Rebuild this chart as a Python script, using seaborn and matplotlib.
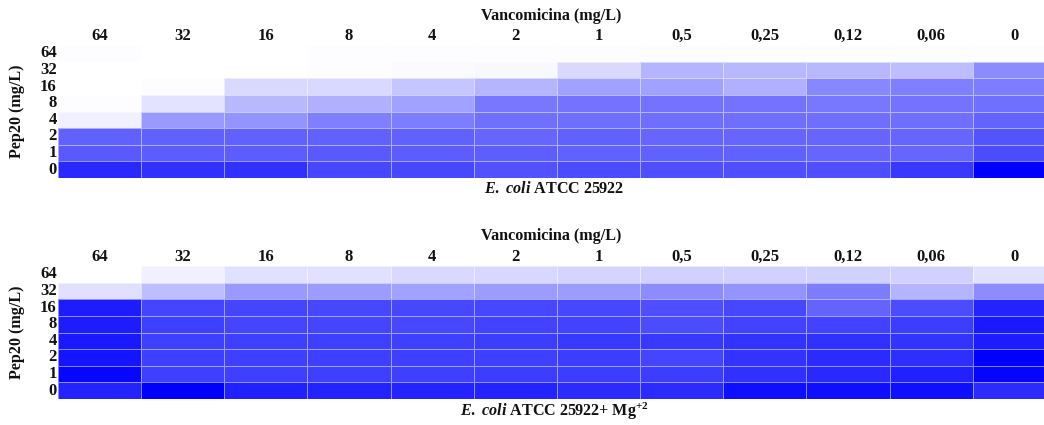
import numpy as np
import pandas as pd
import matplotlib
matplotlib.use("Agg")
import matplotlib.pyplot as plt
from matplotlib.colors import LinearSegmentedColormap
import seaborn as sns

vanco_labels = ["64", "32", "16", "8", "4", "2", "1", "0,5", "0,25", "0,12", "0,06", "0"]
pep_labels = ["64", "32", "16", "8", "4", "2", "1", "0"]

# Growth intensity (0 = white, 1 = full blue), rows = Pep20, cols = Vancomicina
ecoli = [
    [0.01, 0.00, 0.00, 0.01, 0.01, 0.01, 0.01, 0.01, 0.01, 0.01, 0.01, 0.01],
    [0.00, 0.00, 0.00, 0.01, 0.02, 0.03, 0.15, 0.29, 0.28, 0.28, 0.26, 0.45],
    [0.00, 0.01, 0.15, 0.15, 0.23, 0.29, 0.37, 0.37, 0.31, 0.47, 0.50, 0.51],
    [0.01, 0.11, 0.28, 0.31, 0.37, 0.53, 0.55, 0.55, 0.55, 0.53, 0.55, 0.56],
    [0.06, 0.40, 0.42, 0.50, 0.51, 0.56, 0.57, 0.57, 0.57, 0.57, 0.57, 0.61],
    [0.62, 0.62, 0.62, 0.62, 0.62, 0.60, 0.62, 0.60, 0.60, 0.60, 0.60, 0.67],
    [0.65, 0.64, 0.64, 0.65, 0.64, 0.63, 0.62, 0.62, 0.62, 0.60, 0.60, 0.70],
    [0.84, 0.81, 0.81, 0.72, 0.72, 0.68, 0.70, 0.69, 0.69, 0.69, 0.78, 1.00],
]

ecoli_mg = [
    [0.00, 0.06, 0.12, 0.12, 0.15, 0.16, 0.17, 0.18, 0.18, 0.18, 0.18, 0.12],
    [0.12, 0.26, 0.40, 0.39, 0.37, 0.39, 0.39, 0.45, 0.42, 0.51, 0.29, 0.45],
    [0.89, 0.73, 0.73, 0.72, 0.72, 0.72, 0.72, 0.69, 0.72, 0.61, 0.70, 0.86],
    [0.89, 0.75, 0.73, 0.73, 0.72, 0.74, 0.74, 0.70, 0.74, 0.74, 0.76, 0.90],
    [0.90, 0.75, 0.75, 0.75, 0.75, 0.76, 0.78, 0.78, 0.80, 0.81, 0.80, 0.89],
    [0.92, 0.75, 0.75, 0.75, 0.75, 0.75, 0.76, 0.73, 0.80, 0.83, 0.82, 1.00],
    [0.97, 0.75, 0.75, 0.75, 0.75, 0.76, 0.76, 0.76, 0.81, 0.84, 0.87, 0.98],
    [0.86, 1.00, 0.87, 0.86, 0.86, 0.86, 0.83, 0.83, 0.94, 0.94, 0.94, 0.83],
]

sns.set_theme(style="white")
plt.rcParams["font.family"] = ["Liberation Serif", "DejaVu Serif"]
plt.rcParams["font.weight"] = "bold"
plt.rcParams["text.color"] = "#111111"
plt.rcParams["xtick.color"] = "#111111"
plt.rcParams["ytick.color"] = "#111111"
plt.rcParams["mathtext.fontset"] = "custom"
plt.rcParams["mathtext.it"] = "Liberation Serif:italic:bold"
plt.rcParams["mathtext.rm"] = "Liberation Serif:bold"
plt.rcParams["mathtext.bf"] = "Liberation Serif:bold"

W, H = 1044, 425
fig = plt.figure(figsize=(W / 100, H / 100), dpi=100)
cmap = LinearSegmentedColormap.from_list("wb", ["#FFFFFF", "#0000FF"])

left = 58 / W
width = 998 / W
panels = [
    (ecoli, 45, r"$\it{E.}$ $\it{coli}$ ATCC 25922", 189, 16),
    (ecoli_mg, 266, r"$\it{E.}$ $\it{coli}$ ATCC 25922+ Mg$^{+2}$", 411, 236),
]
FS = 12
FT = 11.6
for data, top_px, caption, cap_y, title_y in panels:
    h_px = 133
    ax = fig.add_axes([left, (H - top_px - h_px) / H, width, h_px / H])
    df = pd.DataFrame(data, index=pep_labels, columns=vanco_labels)
    sns.heatmap(df, ax=ax, cmap=cmap, vmin=0, vmax=1, cbar=False,
                linewidths=0.6, linecolor=(1, 1, 1, 0.5),
                xticklabels=True, yticklabels=True)
    ax.xaxis.tick_top()
    ax.tick_params(axis="both", length=0)
    ax.tick_params(axis="x", pad=0.5)
    ax.tick_params(axis="y", pad=1)
    ax.set_xticklabels(vanco_labels, fontsize=FS, fontweight="bold", rotation=0)
    ax.set_yticklabels(pep_labels, fontsize=FS, fontweight="bold", rotation=0,
                       va="center")
    ax.set_xlabel("")
    ax.set_ylabel("")
    fig.text(551 / W, 1 - title_y / H, "Vancomicina (mg/L)", ha="center",
             va="center", fontsize=FT, fontweight="bold")
    fig.text(554 / W, 1 - cap_y / H, caption, ha="center", va="center",
             fontsize=FT, fontweight="bold")
    fig.text(17 / W, 1 - (top_px + h_px / 2) / H, "Pep20 (mg/L)", rotation=90,
             ha="center", va="center", fontsize=FT, fontweight="bold")

fig.savefig("out.png", dpi=100)
